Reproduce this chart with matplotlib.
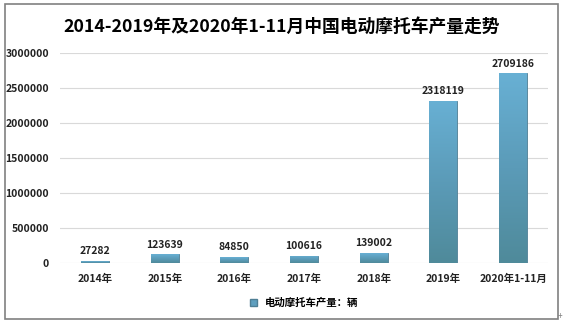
import matplotlib.pyplot as plt
import numpy as np
from matplotlib.colors import LinearSegmentedColormap
from matplotlib.patches import Rectangle

plt.rcParams['font.family'] = ['Noto Sans CJK SC', 'DejaVu Sans']

years = ['2014年', '2015年', '2016年', '2017年', '2018年', '2019年', '2020年1-11月']
output = [27282, 123639, 84850, 100616, 139002, 2318119, 2709186]

fig = plt.figure(figsize=(5.63, 3.24), dpi=100)
ax = fig.add_axes([0.107, 0.188, 0.866, 0.648])

# outer frame
fig.patches.append(Rectangle((5 / 563, 5 / 324), 553 / 563, 315 / 324,
                             transform=fig.transFigure, fill=False,
                             edgecolor='#808080', linewidth=1.2))

x = np.arange(len(years))
w = 0.4
bars = ax.bar(x, output, width=w, color='#5f9fbf', edgecolor='#4f7f95',
              linewidth=0.6, zorder=2)

# vertical gradient on each bar
cmap = LinearSegmentedColormap.from_list('bar', ['#4f8a9a', '#5b9bb8', '#68b0d4'])
grad = np.linspace(0, 1, 256).reshape(-1, 1)
for b in bars:
    x0, y0 = b.get_x(), b.get_y()
    bw, bh = b.get_width(), b.get_height()
    im = ax.imshow(grad, cmap=cmap, aspect='auto', origin='lower',
                   extent=(x0, x0 + bw, y0, y0 + bh), zorder=2)
    im.set_clip_path(b)

for xi, v in zip(x, output):
    ax.text(xi, v + 70000, str(v), ha='center', va='bottom',
            fontsize=7.5, fontweight='bold', color='#222222')

ax.set_xlim(-0.5, 6.5)
ax.set_ylim(0, 3000000)
ax.set_yticks(range(0, 3000001, 500000))
ax.set_yticklabels([str(t) for t in range(0, 3000001, 500000)])
ax.set_xticks(x)
ax.set_xticklabels(years)
ax.tick_params(length=0, labelsize=7.5, colors='#222222', pad=8)
for lab in ax.get_xticklabels() + ax.get_yticklabels():
    lab.set_fontweight('bold')
ax.yaxis.grid(True, color='#d9d9d9', linewidth=0.8, zorder=0)
ax.set_axisbelow(True)
for s in ax.spines.values():
    s.set_visible(False)

fig.text(0.5, 0.917, '2014-2019年及2020年1-11月中国电动摩托车产量走势',
         ha='center', va='center', fontsize=12.8, fontweight='bold')

ax.legend([Rectangle((0, 0), 1, 1, facecolor='#5f9fbf', edgecolor='#4f7f95')],
          ['电动摩托车产量：辆'], loc='center', bbox_to_anchor=(0.5, -0.19),
          frameon=False, handlelength=0.7, handleheight=0.7,
          prop={'size': 7.5, 'weight': 'bold'})

fig.text(560 / 563, 8 / 324, '+', ha='center', va='center', fontsize=6, color='#808080')

fig.savefig('out.png', dpi=100)
